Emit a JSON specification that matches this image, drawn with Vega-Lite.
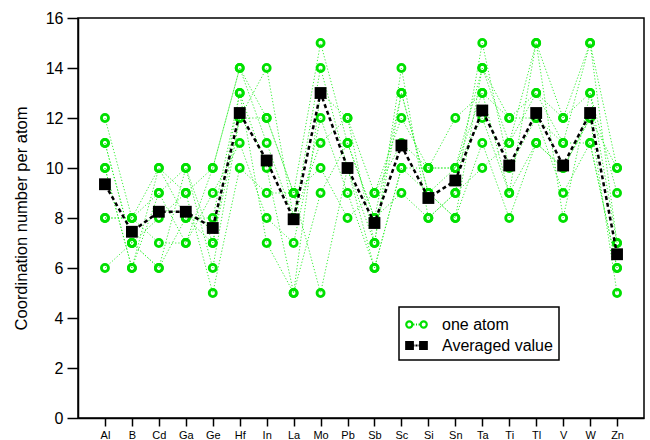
{
  "$schema": "https://vega.github.io/schema/vega-lite/v6.json",
  "width": 566,
  "height": 400,
  "autosize": "none",
  "padding": {"left": 78, "top": 18, "right": 6, "bottom": 22},
  "background": "white",
  "datasets": {
    "atoms": [
      {"el":"Al","atom":"a","cn":12},{"el":"Al","atom":"b","cn":11},{"el":"Al","atom":"c","cn":10},{"el":"Al","atom":"d","cn":8},{"el":"Al","atom":"e","cn":6},{"el":"Al","atom":"f","cn":10},{"el":"Al","atom":"g","cn":8},{"el":"Al","atom":"h","cn":11},
      {"el":"B","atom":"a","cn":8},{"el":"B","atom":"b","cn":7},{"el":"B","atom":"c","cn":6},{"el":"B","atom":"d","cn":8},{"el":"B","atom":"e","cn":7},{"el":"B","atom":"f","cn":6},{"el":"B","atom":"g","cn":8},{"el":"B","atom":"h","cn":7},
      {"el":"Cd","atom":"a","cn":10},{"el":"Cd","atom":"b","cn":6},{"el":"Cd","atom":"c","cn":9},{"el":"Cd","atom":"d","cn":7},{"el":"Cd","atom":"e","cn":8},{"el":"Cd","atom":"f","cn":10},{"el":"Cd","atom":"g","cn":9},{"el":"Cd","atom":"h","cn":6},
      {"el":"Ga","atom":"a","cn":9},{"el":"Ga","atom":"b","cn":8},{"el":"Ga","atom":"c","cn":10},{"el":"Ga","atom":"d","cn":7},{"el":"Ga","atom":"e","cn":9},{"el":"Ga","atom":"f","cn":8},{"el":"Ga","atom":"g","cn":7},{"el":"Ga","atom":"h","cn":10},
      {"el":"Ge","atom":"a","cn":10},{"el":"Ge","atom":"b","cn":7},{"el":"Ge","atom":"c","cn":6},{"el":"Ge","atom":"d","cn":9},{"el":"Ge","atom":"e","cn":5},{"el":"Ge","atom":"f","cn":8},{"el":"Ge","atom":"g","cn":10},{"el":"Ge","atom":"h","cn":7},
      {"el":"Hf","atom":"a","cn":14},{"el":"Hf","atom":"b","cn":13},{"el":"Hf","atom":"c","cn":12},{"el":"Hf","atom":"d","cn":11},{"el":"Hf","atom":"e","cn":10},{"el":"Hf","atom":"f","cn":13},{"el":"Hf","atom":"g","cn":14},{"el":"Hf","atom":"h","cn":12},
      {"el":"In","atom":"a","cn":12},{"el":"In","atom":"b","cn":10},{"el":"In","atom":"c","cn":14},{"el":"In","atom":"d","cn":8},{"el":"In","atom":"e","cn":9},{"el":"In","atom":"f","cn":7},{"el":"In","atom":"g","cn":11},{"el":"In","atom":"h","cn":12},
      {"el":"La","atom":"a","cn":9},{"el":"La","atom":"b","cn":5},{"el":"La","atom":"c","cn":8},{"el":"La","atom":"d","cn":7},{"el":"La","atom":"e","cn":9},{"el":"La","atom":"f","cn":5},{"el":"La","atom":"g","cn":8},{"el":"La","atom":"h","cn":9},
      {"el":"Mo","atom":"a","cn":15},{"el":"Mo","atom":"b","cn":13},{"el":"Mo","atom":"c","cn":14},{"el":"Mo","atom":"d","cn":12},{"el":"Mo","atom":"e","cn":10},{"el":"Mo","atom":"f","cn":9},{"el":"Mo","atom":"g","cn":11},{"el":"Mo","atom":"h","cn":5},
      {"el":"Pb","atom":"a","cn":11},{"el":"Pb","atom":"b","cn":12},{"el":"Pb","atom":"c","cn":10},{"el":"Pb","atom":"d","cn":9},{"el":"Pb","atom":"e","cn":8},{"el":"Pb","atom":"f","cn":11},{"el":"Pb","atom":"g","cn":12},{"el":"Pb","atom":"h","cn":10},
      {"el":"Sb","atom":"a","cn":8},{"el":"Sb","atom":"b","cn":9},{"el":"Sb","atom":"c","cn":7},{"el":"Sb","atom":"d","cn":6},{"el":"Sb","atom":"e","cn":9},{"el":"Sb","atom":"f","cn":8},{"el":"Sb","atom":"g","cn":7},{"el":"Sb","atom":"h","cn":6},
      {"el":"Sc","atom":"a","cn":13},{"el":"Sc","atom":"b","cn":11},{"el":"Sc","atom":"c","cn":14},{"el":"Sc","atom":"d","cn":10},{"el":"Sc","atom":"e","cn":12},{"el":"Sc","atom":"f","cn":9},{"el":"Sc","atom":"g","cn":13},{"el":"Sc","atom":"h","cn":10},
      {"el":"Si","atom":"a","cn":9},{"el":"Si","atom":"b","cn":10},{"el":"Si","atom":"c","cn":8},{"el":"Si","atom":"d","cn":9},{"el":"Si","atom":"e","cn":10},{"el":"Si","atom":"f","cn":8},{"el":"Si","atom":"g","cn":9},{"el":"Si","atom":"h","cn":10},
      {"el":"Sn","atom":"a","cn":10},{"el":"Sn","atom":"b","cn":12},{"el":"Sn","atom":"c","cn":9},{"el":"Sn","atom":"d","cn":8},{"el":"Sn","atom":"e","cn":10},{"el":"Sn","atom":"f","cn":9},{"el":"Sn","atom":"g","cn":8},{"el":"Sn","atom":"h","cn":10},
      {"el":"Ta","atom":"a","cn":14},{"el":"Ta","atom":"b","cn":13},{"el":"Ta","atom":"c","cn":15},{"el":"Ta","atom":"d","cn":11},{"el":"Ta","atom":"e","cn":12},{"el":"Ta","atom":"f","cn":10},{"el":"Ta","atom":"g","cn":14},{"el":"Ta","atom":"h","cn":13},
      {"el":"Ti","atom":"a","cn":11},{"el":"Ti","atom":"b","cn":12},{"el":"Ti","atom":"c","cn":10},{"el":"Ti","atom":"d","cn":8},{"el":"Ti","atom":"e","cn":9},{"el":"Ti","atom":"f","cn":11},{"el":"Ti","atom":"g","cn":12},{"el":"Ti","atom":"h","cn":9},
      {"el":"Tl","atom":"a","cn":15},{"el":"Tl","atom":"b","cn":13},{"el":"Tl","atom":"c","cn":12},{"el":"Tl","atom":"d","cn":11},{"el":"Tl","atom":"e","cn":15},{"el":"Tl","atom":"f","cn":13},{"el":"Tl","atom":"g","cn":12},{"el":"Tl","atom":"h","cn":11},
      {"el":"V","atom":"a","cn":12},{"el":"V","atom":"b","cn":11},{"el":"V","atom":"c","cn":9},{"el":"V","atom":"d","cn":10},{"el":"V","atom":"e","cn":8},{"el":"V","atom":"f","cn":12},{"el":"V","atom":"g","cn":11},{"el":"V","atom":"h","cn":10},
      {"el":"W","atom":"a","cn":13},{"el":"W","atom":"b","cn":15},{"el":"W","atom":"c","cn":11},{"el":"W","atom":"d","cn":12},{"el":"W","atom":"e","cn":13},{"el":"W","atom":"f","cn":15},{"el":"W","atom":"g","cn":11},{"el":"W","atom":"h","cn":12},
      {"el":"Zn","atom":"a","cn":7},{"el":"Zn","atom":"b","cn":10},{"el":"Zn","atom":"c","cn":6},{"el":"Zn","atom":"d","cn":5},{"el":"Zn","atom":"e","cn":9},{"el":"Zn","atom":"f","cn":7},{"el":"Zn","atom":"g","cn":6},{"el":"Zn","atom":"h","cn":10}
    ],
    "avg": [
      {"el":"Al","cn":9.35},{"el":"B","cn":7.45},{"el":"Cd","cn":8.25},{"el":"Ga","cn":8.25},{"el":"Ge","cn":7.6},
      {"el":"Hf","cn":12.2},{"el":"In","cn":10.3},{"el":"La","cn":7.95},{"el":"Mo","cn":13.0},{"el":"Pb","cn":10.0},
      {"el":"Sb","cn":7.8},{"el":"Sc","cn":10.9},{"el":"Si","cn":8.8},{"el":"Sn","cn":9.5},{"el":"Ta","cn":12.3},
      {"el":"Ti","cn":10.1},{"el":"Tl","cn":12.2},{"el":"V","cn":10.1},{"el":"W","cn":12.2},{"el":"Zn","cn":6.55}
    ],
    "keys": [
      {"series":"one atom"},
      {"series":"Averaged value"}
    ]
  },
  "encoding": {
    "x": {
      "field": "el", "type": "nominal", "sort": null,
      "scale": {"type": "point", "padding": 1},
      "axis": {"title": null, "labelAngle": 0, "labelFontSize": 11, "tickSize": 8, "labelPadding": 3, "domainWidth": 1.5, "tickWidth": 1.5}
    },
    "y": {
      "field": "cn", "type": "quantitative",
      "scale": {"domain": [0, 16], "nice": false},
      "axis": {
        "title": "Coordination number per atom",
        "values": [0, 2, 4, 6, 8, 10, 12, 14, 16],
        "labelFontSize": 16, "titleFontSize": 16.5, "titleFontWeight": "normal",
        "tickSize": 11, "labelPadding": 4, "titlePadding": 16, "domainWidth": 1.5, "tickWidth": 1.5
      }
    }
  },
  "layer": [
    {
      "data": {"name": "atoms"},
      "mark": {"type": "line", "color": "#22ee22", "strokeWidth": 1, "strokeDash": [1.2, 2], "opacity": 0.9},
      "encoding": {"detail": {"field": "atom"}}
    },
    {
      "data": {"name": "atoms"},
      "mark": {"type": "point", "shape": "circle", "filled": false, "color": "#00e000", "size": 50, "strokeWidth": 2.8, "opacity": 1}
    },
    {
      "data": {"name": "avg"},
      "mark": {"type": "line", "color": "black", "strokeWidth": 2.5, "strokeDash": [4, 3]}
    },
    {
      "data": {"name": "avg"},
      "mark": {"type": "point", "shape": "square", "filled": true, "color": "black", "size": 140, "opacity": 1}
    },
    {
      "data": {"name": "keys"},
      "mark": {"type": "point", "opacity": 0, "filled": true},
      "encoding": {
        "x": null,
        "y": null,
        "shape": {
          "field": "series", "type": "nominal",
          "scale": {
            "domain": ["one atom", "Averaged value"],
            "range": [
              "M-1,0 a0.3,0.3 0 1,0 0.6,0 a0.3,0.3 0 1,0 -0.6,0 Z M0.4,0 a0.3,0.3 0 1,0 0.6,0 a0.3,0.3 0 1,0 -0.6,0 Z M-0.3,0 L-0.2,0 M-0.05,0 L0.05,0 M0.2,0 L0.3,0",
              "M-1,-0.32 L-0.36,-0.32 L-0.36,0.32 L-1,0.32 Z M0.36,-0.32 L1,-0.32 L1,0.32 L0.36,0.32 Z M-0.36,0 L-0.2,0 M-0.1,0 L0.1,0 M0.2,0 L0.36,0"
            ]
          },
          "legend": {"title": null, "orient": "none", "legendX": 321, "legendY": 289, "encode": {"symbols": {"update": {"opacity": {"value": 1}}}}}
        },
        "fill": {
          "field": "series", "type": "nominal",
          "scale": {"domain": ["one atom", "Averaged value"], "range": ["transparent", "black"]},
          "legend": {"title": null, "orient": "none", "legendX": 321, "legendY": 289, "encode": {"symbols": {"update": {"opacity": {"value": 1}}}}}
        },
        "stroke": {
          "field": "series", "type": "nominal",
          "scale": {"domain": ["one atom", "Averaged value"], "range": ["#00e000", "black"]},
          "legend": {"title": null, "orient": "none", "legendX": 321, "legendY": 289, "encode": {"symbols": {"update": {"opacity": {"value": 1}}}}}
        }
      }
    }
  ],
  "config": {
    "font": "Liberation Sans",
    "view": {"stroke": "black", "strokeWidth": 1.5},
    "axis": {"grid": false, "domainColor": "black", "tickColor": "black", "labelColor": "black", "titleColor": "black"},
    "legend": {
      "strokeColor": "black", "strokeWidth": 1.5, "fillColor": "white", "padding": 6,
      "labelFontSize": 16, "labelColor": "black", "symbolSize": 420, "symbolStrokeWidth": 2.2,
      "rowPadding": 1, "labelOffset": 14, "cornerRadius": 0
    }
  }
}
